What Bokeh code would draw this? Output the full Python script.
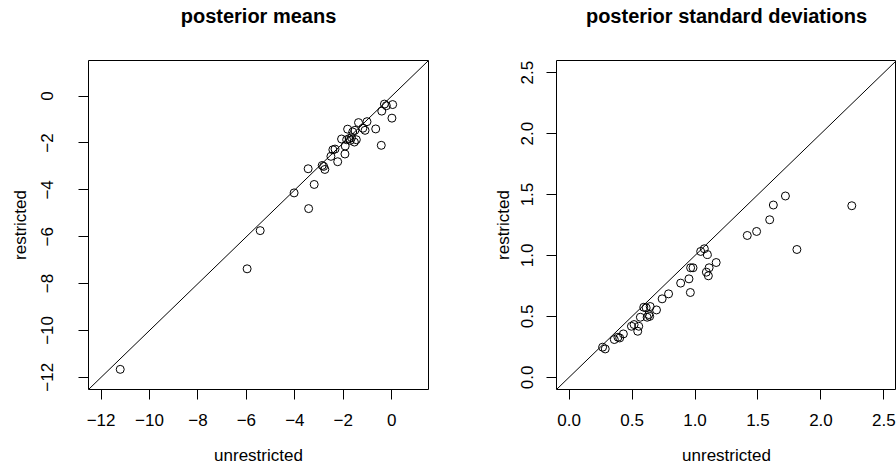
from bokeh.plotting import figure
from bokeh.layouts import row
from bokeh.models import Range1d, FixedTicker, Slope, Title
from bokeh.embed import file_html
from bokeh.resources import INLINE

# posterior means: unrestricted (x) vs restricted (y)
mean_unrestricted = [-11.21, -5.97, -5.43, -4.03, -3.43, -3.20, -3.45, -2.87, -2.81, -2.76,
                     -2.51, -2.43, -2.34, -2.23, -1.93, -2.07, -1.82, -1.92, -1.86, -1.75,
                     -1.66, -1.71, -1.54, -1.46, -1.61, -1.52, -1.37, -1.19, -1.10, -1.02,
                     -0.66, -0.43, -0.41, -0.30, -0.22, 0.04, 0.01]
mean_restricted = [-11.66, -7.37, -5.74, -4.13, -4.80, -3.77, -3.10, -2.96, -3.00, -3.13,
                   -2.57, -2.29, -2.26, -2.80, -2.47, -1.83, -1.41, -2.13, -1.86, -1.81,
                   -1.77, -1.89, -1.96, -1.86, -1.53, -1.46, -1.13, -1.37, -1.46, -1.09,
                   -1.40, -2.10, -0.64, -0.34, -0.41, -0.36, -0.94]

# posterior standard deviations: unrestricted (x) vs restricted (y)
sd_unrestricted = [0.266, 0.287, 0.359, 0.388, 0.402, 0.431, 0.495, 0.516, 0.545, 0.553,
                   0.566, 0.593, 0.612, 0.620, 0.633, 0.644, 0.640, 0.694, 0.739, 0.790,
                   0.886, 0.952, 0.963, 0.965, 0.984, 1.045, 1.074, 1.098, 1.090, 1.106,
                   1.112, 1.168, 1.415, 1.489, 1.593, 1.622, 1.718, 1.809, 2.245]
sd_restricted = [0.247, 0.233, 0.310, 0.329, 0.323, 0.356, 0.419, 0.433, 0.378, 0.419,
                 0.493, 0.575, 0.570, 0.493, 0.515, 0.581, 0.500, 0.553, 0.644, 0.685,
                 0.773, 0.808, 0.696, 0.899, 0.899, 1.033, 1.055, 1.008, 0.863, 0.833,
                 0.899, 0.942, 1.164, 1.197, 1.293, 1.414, 1.488, 1.049, 1.408]

mean_ticks = [-12, -10, -8, -6, -4, -2, 0]
mean_tick_labels = ["\u221212", "\u221210", "\u22128", "\u22126", "\u22124", "\u22122", "0"]
sd_ticks = [0, 0.5, 1, 1.5, 2, 2.5]
sd_tick_labels = ["0.0", "0.5", "1.0", "1.5", "2.0", "2.5"]

FONT = "Liberation Sans"


def make_panel(title, xs, ys, lo, hi, ticks, labels, ml, mr, ylab_standoff, ytitle_standoff):
    p = figure(width=448, height=469, output_backend="svg", toolbar_location=None,
               title=None,
               x_range=Range1d(lo, hi), y_range=Range1d(lo, hi),
               min_border_left=ml, min_border_right=mr, min_border_top=60,
               min_border_bottom=80, background_fill_color="white",
               border_fill_color="white")
    p.outline_line_color = "black"
    p.outline_line_width = 1
    p.outline_line_alpha = 1
    p.grid.visible = False
    overrides = {t: l for t, l in zip(ticks, labels)}
    for ax in (p.xaxis[0], p.yaxis[0]):
        ax.ticker = FixedTicker(ticks=ticks)
        ax.major_label_overrides = overrides
        ax.axis_line_color = None
        ax.minor_tick_line_color = None
        ax.major_tick_in = 0
        ax.major_tick_out = 10
        ax.major_tick_line_color = "black"
        ax.major_label_text_font = FONT
        ax.major_label_text_font_size = "17px"
        ax.major_label_text_color = "black"
        ax.axis_label_text_font = FONT
        ax.axis_label_text_font_size = "17px"
        ax.axis_label_text_font_style = "normal"
        ax.axis_label_text_color = "black"
    p.xaxis.axis_label = "unrestricted"
    p.yaxis.axis_label = "restricted"
    p.xaxis.major_label_standoff = 14
    p.xaxis.axis_label_standoff = 17
    p.yaxis.major_label_orientation = "vertical"
    p.yaxis.major_label_standoff = ylab_standoff
    p.yaxis.axis_label_standoff = ytitle_standoff
    p.add_layout(Slope(gradient=1, y_intercept=0, line_color="black", line_width=1))
    p.scatter(xs, ys, size=8, marker="circle", fill_color=None,
              line_color="black", line_width=1)
    # blank spacer title next to the frame, then the real title further out
    p.add_layout(Title(text=" ", text_font_size="29px", standoff=0), "above")
    p.add_layout(Title(text=title, align="center", text_font=FONT,
                       text_font_size="20px", text_font_style="bold",
                       text_color="black", standoff=0), "above")
    return p


left = make_panel("posterior means", mean_unrestricted, mean_restricted,
                  -12.52, 1.52, mean_ticks, mean_tick_labels, 88, 20, 25, 9)
right = make_panel("posterior standard deviations", sd_unrestricted, sd_restricted,
                   -0.1, 2.6, sd_ticks, sd_tick_labels, 108, 0, 13, 6)

layout = row(left, right)
open("out.html", "w").write(file_html(layout, INLINE))
